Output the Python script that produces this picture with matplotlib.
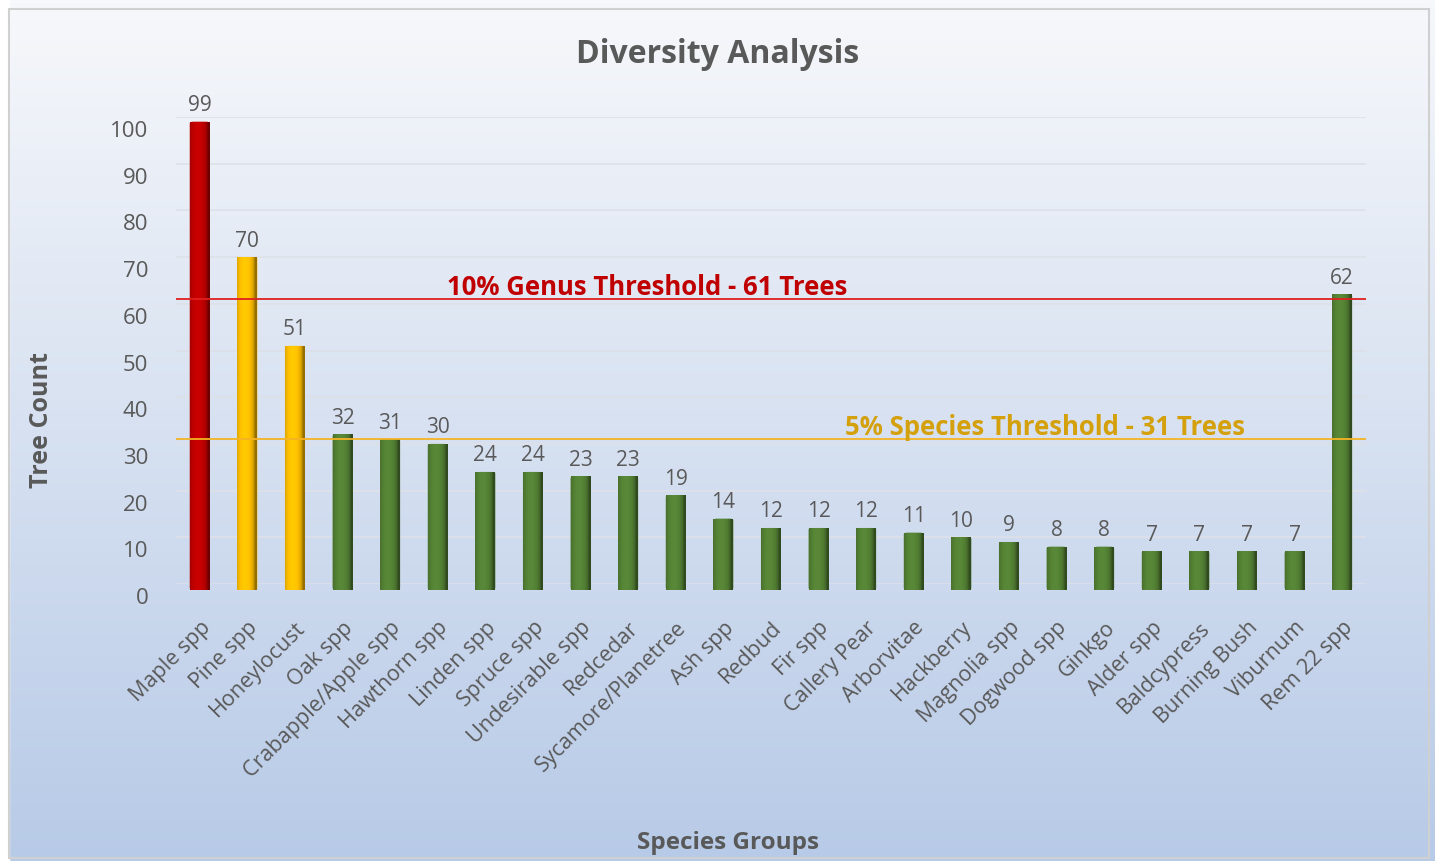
import numpy as np
import matplotlib
matplotlib.use("Agg")
import matplotlib.pyplot as plt
from matplotlib.patches import FancyBboxPatch, Rectangle
from matplotlib.colors import to_rgb
import matplotlib.transforms as mtransforms

# ---------------- data ----------------
categories = ["Maple spp", "Pine spp", "Honeylocust", "Oak spp", "Crabapple/Apple spp",
              "Hawthorn spp", "Linden spp", "Spruce spp", "Undesirable spp", "Redcedar",
              "Sycamore/Planetree", "Ash spp", "Redbud", "Fir spp", "Callery Pear",
              "Arborvitae", "Hackberry", "Magnolia spp", "Dogwood spp", "Ginkgo",
              "Alder spp", "Baldcypress", "Burning Bush", "Viburnum", "Rem 22 spp"]
counts = [99, 70, 51, 32, 31, 30, 24, 24, 23, 23, 19, 14, 12, 12, 12, 11, 10, 9, 8, 8,
          7, 7, 7, 7, 62]
groups = ["genus", "species", "species"] + ["ok"] * 22
yticks = [0, 10, 20, 30, 40, 50, 60, 70, 80, 90, 100]
genus_threshold = 61
species_threshold = 31
genus_label = "10% Genus Threshold - 61 Trees"
species_label = "5% Species Threshold - 31 Trees"

# ---------------- style ----------------
GRAY = "#595959"
RED = "#C00000"
GOLD_LINE = "#F5B324"
GOLD_TEXT = "#D4A00C"
bar_colors = {"genus": "#C00000", "species": "#FFC000", "ok": "#548235"}
FONT = ["Open Sans", "DejaVu Sans"]

fig = plt.figure(figsize=(14.35, 8.61), dpi=100)

# background gradient
bg = fig.add_axes([0, 0, 1, 1], zorder=-10)
top = np.array(to_rgb("#f7f8fb"))
bot = np.array(to_rgb("#b7cae7"))
t = np.linspace(0, 1, 256)[:, None]
grad = (top[None, :] * (1 - t) + bot[None, :] * t)
grad = np.repeat(grad[:, None, :], 2, axis=1)
bg.imshow(grad, aspect="auto", extent=[0, 1, 0, 1], origin="upper")
bg.add_patch(Rectangle((0, 0), 0.006, 1, color="white", transform=bg.transAxes))
bg.add_patch(Rectangle((0.006, 0.003), 0.99, 0.987, fill=False, edgecolor="#d0d0d0",
                       linewidth=1.5, transform=bg.transAxes))
bg.set_xlim(0, 1); bg.set_ylim(0, 1)
bg.axis("off")

ax = fig.add_axes([0.1226, 0.3217, 0.8293, 0.5424])
ax.set_facecolor("none")
for s in ax.spines.values():
    s.set_visible(False)

x = np.arange(len(categories))
width = 0.42

def shade(rgb):
    # horizontal cylinder shading
    u = np.linspace(-1, 1, 64)
    light = 0.55 + 0.45 * np.sqrt(np.clip(1 - (u + 0.2) ** 2, 0, 1))
    img = np.clip(np.array(rgb)[None, :] * light[:, None] * 1.05, 0, 1)
    return img[None, :, :]

for xi, v, g in zip(x, counts, groups):
    rgb = to_rgb(bar_colors[g])
    patch = FancyBboxPatch((xi - width / 2, -1.2), width, v + 1.2,
                           boxstyle="round,pad=0,rounding_size=0.08",
                           mutation_aspect=4.5, facecolor=bar_colors[g],
                           edgecolor="none", zorder=3, clip_on=False)
    ax.add_patch(patch)
    im = ax.imshow(shade(rgb), extent=[xi - width / 2, xi + width / 2, -1.2, v],
                   aspect="auto", zorder=3.1, interpolation="bilinear", clip_on=False)
    im.set_clip_path(patch)
    ax.annotate(str(v), (xi, v), xytext=(0, 4), textcoords="offset points",
                ha="center", va="bottom", fontsize=15, color=GRAY, family=FONT)

ax.set_xlim(-0.5, len(categories) - 0.5)
ax.set_ylim(0, 100)
ax.set_yticks(yticks)
ax.yaxis.grid(True, color="#dde1e8", linewidth=1.2, zorder=0)
ax.set_axisbelow(True)
ax.tick_params(axis="y", length=0, pad=20, labelsize=16, labelcolor=GRAY)
for lab in ax.get_yticklabels():
    lab.set_family(FONT)
    lab.set_transform(lab.get_transform() +
                      mtransforms.ScaledTranslation(0, -0.12, fig.dpi_scale_trans))

ax.set_xticks(x)
ax.set_xticklabels(categories, rotation=45, ha="right", va="top",
                   rotation_mode="anchor", fontsize=15.5, color=GRAY, family=FONT)
ax.tick_params(axis="x", length=0, pad=24)

# thresholds
ax.axhline(genus_threshold, color="#E02020", linewidth=1.3, zorder=4)
ax.axhline(species_threshold, color=GOLD_LINE, linewidth=1.3, zorder=4)
ax.text(9.4, genus_threshold + 0.9, genus_label, ha="center", va="baseline",
        fontsize=18.5, fontweight="bold", color=RED, family=FONT, zorder=5)
ax.text(17.75, species_threshold + 0.9, species_label, ha="center", va="baseline",
        fontsize=18.5, fontweight="bold", color=GOLD_TEXT, family=FONT, zorder=5)

fig.text(0.5, 0.937, "Diversity Analysis", ha="center", va="center",
         fontsize=23, fontweight="bold", color=GRAY, family=FONT)
fig.text(0.029, 0.512, "Tree Count", ha="center", va="center", rotation=90,
         fontsize=18, fontweight="bold", color=GRAY, family=FONT)
fig.text(0.507, 0.021, "Species Groups", ha="center", va="center",
         fontsize=17.5, fontweight="bold", color=GRAY, family=FONT)

fig.savefig("out.png", dpi=100)
